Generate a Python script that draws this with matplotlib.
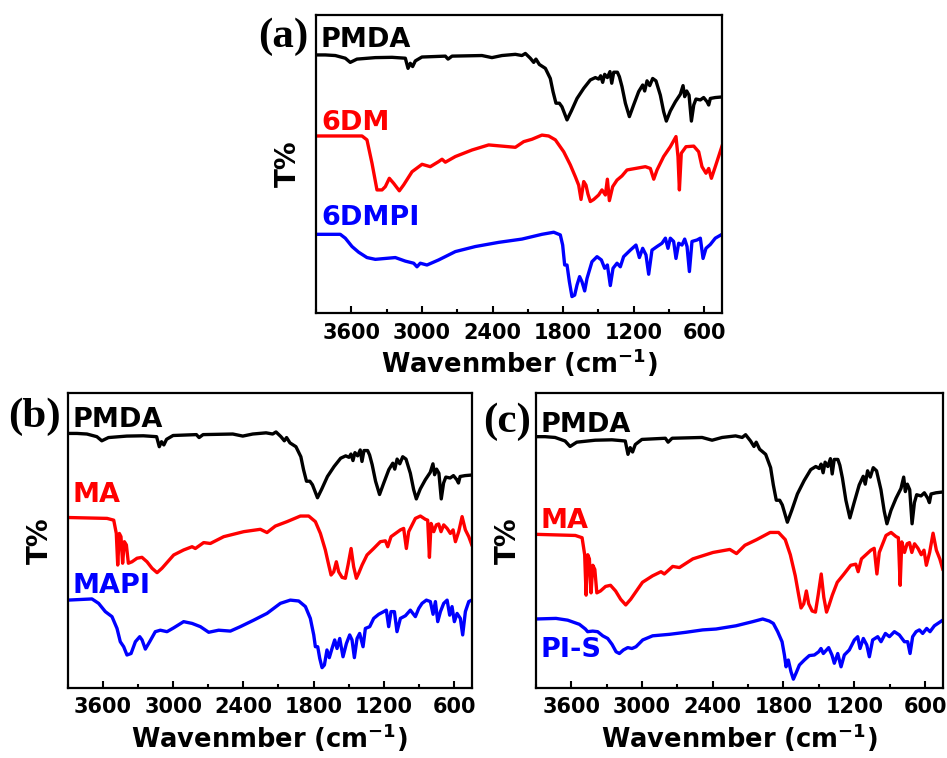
import numpy as np
import matplotlib
matplotlib.use("Agg")
import matplotlib.pyplot as plt
from matplotlib.ticker import MultipleLocator

# FTIR spectra: (wavenumber cm-1, transmittance, arb. units)
pmda = [(3900, 86.6), (3821, 86.6), (3736, 86.4), (3651, 85.5), (3609, 84.1), (3552, 85.2),
        (3396, 85.7), (3254, 85.8), (3141, 85.5), (3118, 82.1), (3099, 83.8), (3079, 82.7),
        (3056, 84.6), (3000, 85.9), (2801, 86.2), (2778, 85.2), (2744, 86.2), (2490, 86.4),
        (2405, 85.7), (2320, 86.4), (2206, 86.8), (2150, 86.4), (2121, 87.1), (2079, 85.5),
        (2050, 84.1), (2031, 85.2), (2002, 83.4), (1951, 82.1), (1909, 78.7), (1886, 74.3),
        (1861, 70.4), (1832, 70.4), (1810, 69.2), (1767, 64.8), (1730, 67.8), (1682, 72.0),
        (1625, 75.4), (1569, 78.2), (1526, 79.0), (1498, 78.5), (1481, 79.6), (1464, 77.4),
        (1447, 80.1), (1424, 79.0), (1402, 81.0), (1387, 77.1), (1370, 80.8), (1339, 80.8),
        (1322, 79.3), (1300, 76.0), (1271, 70.4), (1237, 65.9), (1201, 69.8), (1158, 74.3),
        (1124, 76.5), (1107, 74.5), (1087, 77.9), (1064, 76.3), (1039, 78.7), (1011, 77.9),
        (974, 73.1), (946, 67.6), (923, 64.4), (889, 67.8), (846, 70.9), (804, 73.4),
        (781, 76.3), (767, 72.6), (750, 74.5), (730, 73.1), (710, 64.4), (690, 69.8),
        (671, 71.8), (634, 71.5), (606, 72.3), (577, 70.9), (563, 69.8), (549, 72.0),
        (507, 72.3), (450, 72.5)]

dm6 = [(3900, 59.4), (3509, 59.4), (3467, 58.1), (3424, 50.2), (3382, 41.3), (3339, 41.3),
       (3311, 42.4), (3277, 45.2), (3240, 43.5), (3192, 41.0), (3155, 43.0), (3084, 47.4),
       (2999, 49.9), (2929, 49.1), (2858, 50.8), (2829, 51.6), (2801, 50.6), (2716, 52.5),
       (2574, 54.7), (2433, 56.4), (2320, 56.0), (2206, 55.6), (2135, 57.5), (2065, 58.3),
       (1980, 59.7), (1923, 59.4), (1866, 58.1), (1795, 54.1), (1739, 49.7), (1696, 45.7),
       (1668, 42.9), (1648, 38.1), (1625, 44.1), (1606, 42.9), (1589, 39.9), (1569, 37.4),
       (1540, 38.1), (1498, 39.6), (1470, 41.3), (1441, 39.6), (1424, 44.9), (1407, 37.7),
       (1379, 42.4), (1342, 44.6), (1300, 46.0), (1257, 48.0), (1186, 48.5), (1101, 49.1),
       (1059, 48.5), (1030, 44.9), (1002, 48.0), (946, 52.5), (889, 55.8), (841, 59.2),
       (824, 52.5), (812, 41.3), (796, 53.6), (756, 55.8), (690, 56.0), (648, 54.1),
       (620, 49.1), (586, 46.9), (563, 48.5), (540, 45.2), (507, 49.1), (450, 56.0)]

dmpi6 = [(3900, 26.4), (3694, 26.4), (3651, 25.1), (3594, 22.3), (3538, 20.4), (3467, 18.6),
         (3396, 18.0), (3226, 18.6), (3141, 17.4), (3070, 16.7), (3042, 15.5), (3014, 16.7),
         (2957, 16.1), (2858, 17.8), (2716, 20.6), (2546, 22.3), (2348, 23.7), (2150, 24.8),
         (1980, 26.4), (1880, 27.1), (1824, 26.2), (1804, 22.8), (1787, 16.1), (1767, 16.1),
         (1747, 10.5), (1725, 5.5), (1702, 6.0), (1682, 9.4), (1660, 12.2), (1640, 10.5),
         (1617, 7.4), (1597, 11.6), (1555, 17.2), (1512, 18.9), (1475, 17.8), (1447, 15.0),
         (1424, 16.1), (1399, 9.2), (1376, 15.0), (1342, 16.7), (1314, 15.5), (1286, 18.9),
         (1229, 21.1), (1181, 22.8), (1152, 18.6), (1124, 21.7), (1096, 19.5), (1073, 13.0),
         (1045, 21.1), (1002, 22.3), (960, 23.4), (931, 25.1), (909, 21.7), (889, 25.1),
         (861, 24.0), (841, 18.3), (818, 23.4), (790, 22.8), (767, 24.8), (747, 22.3),
         (727, 13.9), (705, 24.0), (662, 24.5), (634, 25.1), (611, 18.3), (586, 21.7),
         (549, 23.0), (507, 25.1), (450, 26.4)]

ma = [(3900, 57.7), (3564, 57.4), (3507, 56.8), (3485, 52.3), (3473, 41.6), (3459, 52.3),
      (3445, 51.2), (3431, 42.2), (3416, 49.5), (3399, 48.4), (3382, 42.2), (3351, 42.7),
      (3308, 43.9), (3266, 44.2), (3223, 42.7), (3180, 40.5), (3137, 39.0), (3095, 40.5),
      (2995, 45.0), (2910, 46.7), (2838, 47.8), (2810, 47.2), (2739, 49.2), (2682, 48.9),
      (2568, 51.2), (2397, 52.9), (2255, 53.7), (2198, 52.6), (2127, 54.8), (2027, 56.3),
      (1913, 58.2), (1842, 58.2), (1785, 56.3), (1742, 52.3), (1700, 46.7), (1671, 41.6),
      (1651, 38.2), (1628, 39.3), (1606, 42.7), (1586, 39.3), (1557, 37.4), (1529, 37.1),
      (1506, 41.6), (1480, 47.2), (1458, 41.0), (1435, 37.1), (1415, 38.8), (1386, 41.6),
      (1344, 45.0), (1287, 47.2), (1230, 49.5), (1187, 49.8), (1167, 47.8), (1139, 51.2),
      (1059, 53.5), (1031, 54.0), (1008, 47.2), (988, 52.9), (931, 57.4), (888, 58.2),
      (846, 57.1), (826, 56.8), (811, 44.2), (797, 55.7), (774, 52.9), (752, 55.2),
      (732, 55.5), (712, 52.9), (689, 55.2), (660, 54.0), (632, 52.3), (609, 53.5),
      (589, 49.5), (561, 52.9), (532, 58.0), (504, 53.5), (475, 51.2), (450, 48.5)]

mapi = [(3900, 29.7), (3693, 30.1), (3636, 28.6), (3579, 25.8), (3522, 24.1), (3479, 20.1),
        (3451, 15.6), (3422, 13.9), (3394, 11.1), (3359, 11.6), (3322, 15.6), (3285, 17.3),
        (3265, 16.2), (3237, 13.1), (3200, 15.6), (3152, 19.0), (3109, 19.5), (3052, 19.0),
        (2995, 20.3), (2910, 22.4), (2838, 21.8), (2767, 20.7), (2696, 18.8), (2611, 19.5),
        (2511, 19.2), (2426, 20.7), (2312, 22.9), (2198, 25.2), (2084, 28.6), (1999, 29.7),
        (1927, 29.4), (1870, 27.5), (1828, 23.5), (1799, 17.9), (1785, 13.9), (1765, 13.9),
        (1748, 10.0), (1728, 6.8), (1708, 7.7), (1686, 12.8), (1666, 10.2), (1643, 13.3),
        (1620, 16.2), (1600, 13.3), (1577, 16.7), (1549, 10.5), (1520, 15.0), (1492, 17.9),
        (1472, 16.2), (1452, 10.2), (1429, 16.7), (1407, 18.4), (1378, 13.9), (1358, 20.1),
        (1321, 20.7), (1287, 23.5), (1244, 24.9), (1201, 25.8), (1179, 26.3), (1159, 20.7),
        (1139, 25.8), (1110, 25.8), (1088, 19.0), (1059, 23.5), (1016, 24.4), (974, 26.3),
        (931, 24.1), (902, 26.9), (874, 28.6), (837, 29.7), (803, 29.2), (780, 24.9),
        (760, 29.2), (740, 22.4), (717, 25.8), (689, 28.6), (660, 29.7), (638, 24.6),
        (618, 27.5), (598, 22.4), (575, 25.2), (547, 23.5), (527, 17.9), (504, 25.8),
        (475, 29.2), (450, 29.7)]

pis = [(3900, 23.3), (3728, 23.5), (3629, 22.9), (3530, 21.5), (3479, 19.9), (3460, 19.0),
       (3417, 19.2), (3375, 19.0), (3332, 17.6), (3290, 16.7), (3253, 14.7), (3219, 12.2),
       (3191, 11.6), (3157, 12.8), (3120, 13.6), (3084, 13.3), (3050, 13.9), (2993, 16.2),
       (2909, 17.6), (2767, 18.1), (2626, 18.8), (2485, 19.6), (2372, 19.9), (2202, 21.0),
       (2061, 22.4), (1976, 23.3), (1920, 22.6), (1886, 21.8), (1849, 19.0), (1812, 15.6),
       (1792, 11.1), (1778, 7.1), (1759, 9.4), (1736, 5.4), (1716, 2.9), (1694, 4.9),
       (1665, 7.7), (1623, 9.4), (1581, 10.9), (1538, 11.1), (1501, 12.2), (1482, 13.3),
       (1462, 11.6), (1417, 13.6), (1389, 11.1), (1369, 8.3), (1340, 11.6), (1312, 7.1),
       (1284, 11.1), (1242, 12.8), (1199, 16.2), (1171, 17.3), (1151, 13.3), (1123, 16.7),
       (1094, 14.5), (1072, 10.5), (1044, 16.2), (1001, 17.3), (973, 15.6), (936, 18.4),
       (902, 17.3), (860, 19.0), (818, 17.9), (775, 15.6), (747, 15.6), (727, 11.6),
       (705, 17.3), (676, 19.0), (648, 19.6), (620, 18.4), (586, 20.1), (558, 19.0),
       (521, 21.0), (450, 22.9)]

# stacking: (spectrum, top level in panel, vertical stretch, colour, name)
panels = {
    "a": [(pmda, 86.6, 1.0, "black", "PMDA"),
          (dm6, 59.4, 1.0, "#ff0000", "6DM"),
          (dmpi6, 26.4, 1.0, "#0000ff", "6DMPI")],
    "b": [(pmda, 86.2, 1.0, "black", "PMDA"),
          (ma, 57.7, 1.0, "#ff0000", "MA"),
          (mapi, 29.7, 1.0, "#0000ff", "MAPI")],
    "c": [(pmda, 85.1, 1.33, "black", "PMDA"),
          (ma, 52.0, 1.28, "#ff0000", "MA"),
          (pis, 23.3, 1.0, "#0000ff", "PI-S")],
}
name_y = {"a": [0.893, 0.614, 0.295], "b": [0.885, 0.630, 0.320], "c": [0.868, 0.540, 0.105]}
letter_x = {"a": -0.142, "b": -0.148, "c": -0.128}
rects = {"a": [0.3337, 0.5871, 0.4287, 0.3931],
         "b": [0.0715, 0.0927, 0.4266, 0.3892],
         "c": [0.5657, 0.0927, 0.4298, 0.3892]}

plt.rcParams['font.family'] = ['DejaVu Sans']
plt.rcParams['font.weight'] = 'bold'
plt.rcParams['mathtext.default'] = 'bf'

fig = plt.figure(figsize=(9.47, 7.58), dpi=100)

for key in ["a", "b", "c"]:
    ax = fig.add_axes(rects[key])
    for i, (spec, top, stretch, color, name) in enumerate(panels[key]):
        arr = np.array(spec)
        base = arr[0, 1]
        ax.plot(arr[:, 0], top + stretch * (arr[:, 1] - base), color=color, lw=2.4)
        ax.text(0.012, name_y[key][i], name, color=color, transform=ax.transAxes,
                fontsize=19.5, fontweight='bold', va='baseline', ha='left')
    ax.text(letter_x[key], name_y[key][0], "(%s)" % key, transform=ax.transAxes,
            fontsize=31, fontweight='bold', family='Liberation Serif',
            va='baseline', ha='left')
    ax.set_xlim(3900, 450)
    ax.set_ylim(0, 100)
    ax.set_yticks([])
    ax.xaxis.set_major_locator(MultipleLocator(600))
    ax.xaxis.set_minor_locator(MultipleLocator(300))
    ax.tick_params(axis='x', which='major', direction='in', length=5, width=1.5,
                   labelsize=15, pad=7)
    ax.tick_params(axis='x', which='minor', direction='in', length=3, width=1.5)
    for lbl in ax.get_xticklabels():
        lbl.set_fontweight('bold')
    for sp in ax.spines.values():
        sp.set_linewidth(1.6)
    ax.set_xlabel("Wavenmber (cm$^{-1}$)", fontsize=18.5, fontweight='bold', labelpad=3)
    ax.set_ylabel("T%", fontsize=20, fontweight='bold', labelpad=10)

fig.savefig("out.png", dpi=100)
